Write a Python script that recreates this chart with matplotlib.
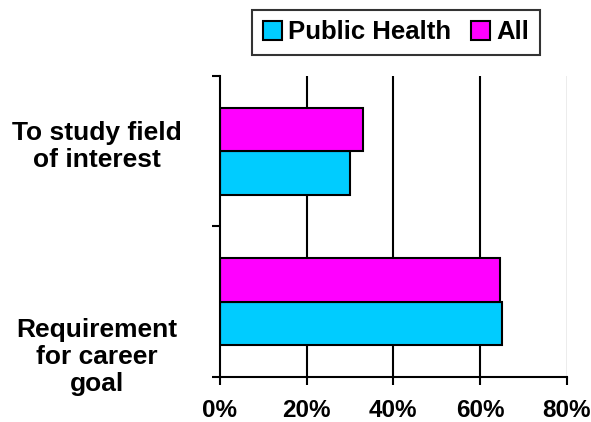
import numpy as np
from matplotlib import pyplot as plt
from matplotlib.patches import Patch

plt.rcParams["font.family"] = ["Liberation Sans", "DejaVu Sans"]
plt.rcParams["font.weight"] = "bold"

categories = ["Requirement\nfor career\ngoal", "To study field\nof interest"]
public_health = [65, 30]
all_students = [64.5, 33]
series_names = ["Public Health", "All"]
x_ticks = [0, 20, 40, 60, 80]

c_ph = "#00CCFF"
c_all = "#FF00FF"
bar_h = 0.29

fig = plt.figure(figsize=(5.91, 4.22), dpi=100)
ax = fig.add_axes([0.372, 0.107, 0.587, 0.713])

y = np.arange(len(categories))
ax.barh(y - bar_h / 2, public_health, height=bar_h, color=c_ph,
        edgecolor="black", linewidth=1.5, zorder=3)
ax.barh(y + bar_h / 2, all_students, height=bar_h, color=c_all,
        edgecolor="black", linewidth=1.5, zorder=3)

# gridlines: black inside, grey at the far right
for v in x_ticks[1:-1]:
    ax.axvline(v, color="black", linewidth=1.5, zorder=1)
ax.axvline(x_ticks[-1], color="#a0a0a0", linewidth=1.0, zorder=1)

ax.set_xlim(0, 80)
ax.set_ylim(-0.5, 1.5)
ax.set_xticks(x_ticks)
ax.set_xticklabels([f"{v}%" for v in x_ticks], fontsize=17.5, fontweight="bold")
ax.tick_params(axis="x", direction="out", length=6, width=1.5, pad=10)

# category ticks sit between groups
ax.set_yticks([-0.5, 0.5, 1.5])
ax.set_yticklabels([])
ax.tick_params(axis="y", direction="out", length=6, width=1.5)

# label offsets (data units) as in the original layout
offsets = [-0.37, 0.03]
for i, lab in enumerate(categories):
    ax.text(-0.354, i + offsets[i], lab, transform=ax.get_yaxis_transform(),
            ha="center", va="center", multialignment="center",
            fontsize=19, fontweight="bold", linespacing=1.15)

for s in ["top", "right"]:
    ax.spines[s].set_visible(False)
for s in ["left", "bottom"]:
    ax.spines[s].set_linewidth(1.5)
    ax.spines[s].set_zorder(4)

handles = [Patch(facecolor=c_ph, edgecolor="black", linewidth=1.5),
           Patch(facecolor=c_all, edgecolor="black", linewidth=1.5)]
leg = fig.legend(handles, series_names, loc="center", bbox_to_anchor=(0.670, 0.923),
                 ncol=2, frameon=True, fancybox=False, edgecolor="black",
                 prop={"size": 18.5, "weight": "bold"}, handlelength=0.75,
                 handleheight=0.75, handletextpad=0.25, columnspacing=0.75,
                 borderpad=0.4, borderaxespad=0)
leg.get_frame().set_linewidth(1.5)

fig.savefig("out.png", dpi=100)
